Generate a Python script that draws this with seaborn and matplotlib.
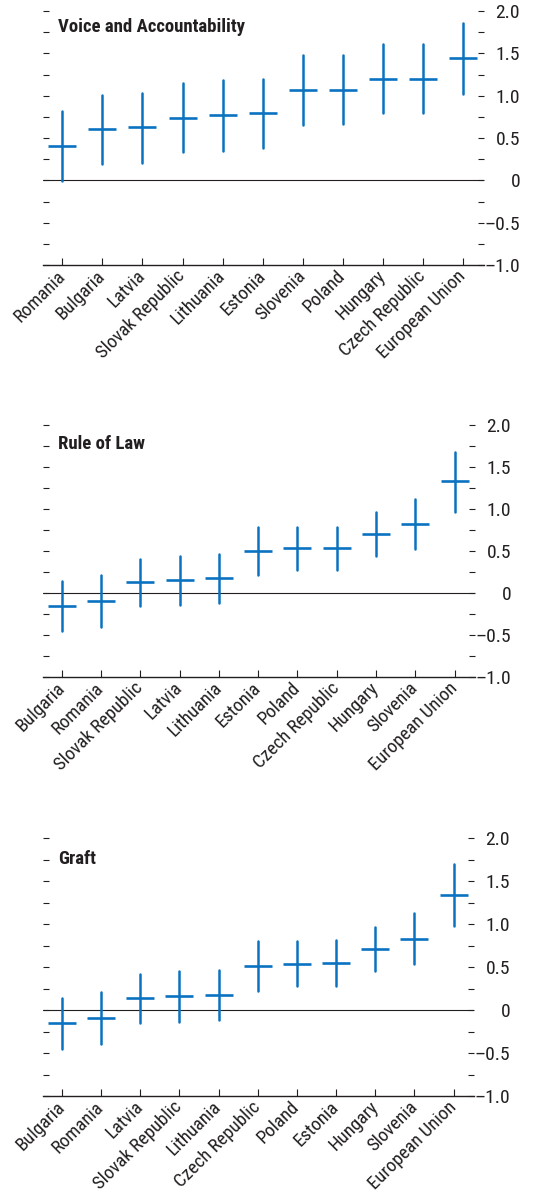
import numpy as np
import pandas as pd
import seaborn as sns
import matplotlib.pyplot as plt
from matplotlib import font_manager as fm

# Data (centre value and interval ends per country)
va_countries = ["Romania", "Bulgaria", "Latvia", "Slovak Republic", "Lithuania", "Estonia",
                "Slovenia", "Poland", "Hungary", "Czech Republic", "European Union"]
va_mid = [0.41, 0.61, 0.63, 0.74, 0.77, 0.79, 1.07, 1.07, 1.20, 1.20, 1.44]
va_low = [-0.01, 0.19, 0.21, 0.33, 0.35, 0.38, 0.65, 0.66, 0.79, 0.79, 1.02]
va_high = [0.82, 1.01, 1.03, 1.15, 1.18, 1.20, 1.48, 1.48, 1.61, 1.61, 1.86]

rl_countries = ["Bulgaria", "Romania", "Slovak Republic", "Latvia", "Lithuania", "Estonia",
                "Poland", "Czech Republic", "Hungary", "Slovenia", "European Union"]
rl_mid = [-0.15, -0.09, 0.13, 0.15, 0.18, 0.50, 0.53, 0.54, 0.70, 0.82, 1.33]
rl_low = [-0.45, -0.40, -0.15, -0.14, -0.12, 0.21, 0.27, 0.27, 0.44, 0.52, 0.97]
rl_high = [0.14, 0.21, 0.40, 0.44, 0.47, 0.79, 0.79, 0.79, 0.96, 1.12, 1.68]

gr_countries = ["Bulgaria", "Romania", "Latvia", "Slovak Republic", "Lithuania", "Czech Republic",
                "Poland", "Estonia", "Hungary", "Slovenia", "European Union"]
gr_mid = [-0.15, -0.09, 0.14, 0.16, 0.18, 0.51, 0.54, 0.55, 0.71, 0.83, 1.34]
gr_low = [-0.45, -0.39, -0.15, -0.14, -0.12, 0.22, 0.28, 0.28, 0.45, 0.53, 0.98]
gr_high = [0.14, 0.21, 0.42, 0.45, 0.47, 0.80, 0.80, 0.81, 0.97, 1.13, 1.70]

BLUE = "#0a72c0"
DARK = "#231f20"

# axes rectangles in figure pixels: left, right, top, bottom
W, H = 533, 1196
PANELS = [
    ("Voice and Accountability", va_countries, va_mid, va_low, va_high, (43, 484, 11, 265), 21),
    ("Rule of Law", rl_countries, rl_mid, rl_low, rl_high, (43, 475, 425, 677), 24),
    ("Graft", gr_countries, gr_mid, gr_low, gr_high, (43, 474, 838, 1096), 26),
]


def pick_font():
    # the original uses a condensed sans; take a narrow face if one is installed
    entries = fm.fontManager.ttflist
    names = {f.name for f in entries}
    for n in ["Liberation Sans Narrow", "Roboto Condensed", "Noto Sans Condensed",
              "Open Sans Condensed", "Arial Narrow"]:
        if n in names:
            return n, "normal", True
    for fam in ["Roboto", "Noto Sans", "Open Sans", "DejaVu Sans"]:
        if any(f.name == fam and f.stretch in ("condensed", "semi-condensed") for f in entries):
            return fam, "condensed", True
    return "Liberation Sans", "normal", False


def fmt_tick(v):
    if abs(v) < 1e-9:
        return "0"
    if abs(v * 2 - round(v * 2)) > 1e-9:
        return ""
    return f"{v:.1f}".replace("-", "\u2013")


def draw_panel(fig, title, countries, mid, low, high, rect, title_off, fs, tfs):
    l, r, t, b = rect
    ax = fig.add_axes([l / W, 1 - b / H, (r - l) / W, (b - t) / H])

    # long form: median gives the centre, min/max gives the interval
    df = pd.DataFrame({
        "country": countries * 3,
        "value": list(low) + list(mid) + list(high),
    })
    sns.pointplot(data=df, x="country", y="value", order=countries,
                  estimator="median", errorbar=("pi", 100),
                  color=BLUE, markers="_", linestyles="none",
                  markersize=20, markeredgewidth=1.9,
                  err_kws={"linewidth": 1.8}, ax=ax)

    ax.axhline(0, color=DARK, lw=0.8, zorder=1)
    ax.set_xlim(-0.48, 10.52)
    ax.set_ylim(-1, 2)
    ax.set_xlabel("")
    ax.set_ylabel("")

    ticks = np.arange(-1, 2.001, 0.25)
    ax.set_yticks(ticks)
    ax.set_yticklabels([fmt_tick(v) for v in ticks])
    ax.tick_params(axis="y", left=True, right=True, labelleft=False, labelright=True,
                   direction="in", length=4, width=0.8, color=DARK, pad=26,
                   labelsize=fs, labelcolor=DARK)
    for lab in ax.get_yticklabels():
        lab.set_horizontalalignment("right")

    ax.tick_params(axis="x", bottom=True, direction="in", length=5, width=0.8,
                   color=DARK, labelsize=fs - 0.5, labelcolor=DARK, pad=6)
    plt.setp(ax.get_xticklabels(), rotation=45, ha="right", va="center",
             rotation_mode="anchor")

    for side in ["left", "right", "top"]:
        ax.spines[side].set_visible(False)
    ax.spines["bottom"].set_color(DARK)
    ax.spines["bottom"].set_linewidth(1.0)

    ax.text((58 - l) / (r - l), 1 - title_off / (b - t), title, transform=ax.transAxes,
            fontsize=tfs, fontweight="bold", color=DARK, va="baseline", ha="left")
    return ax


if __name__ == "__main__":
    sns.set_theme(style="white")
    family, stretch, narrow = pick_font()
    plt.rcParams["font.family"] = [family, "Liberation Sans", "DejaVu Sans"]
    plt.rcParams["font.stretch"] = stretch
    fs, tfs = (14, 13.5) if narrow else (11, 11.5)
    fig = plt.figure(figsize=(W / 100, H / 100), dpi=100)
    for p in PANELS:
        draw_panel(fig, *p, fs, tfs)
    fig.savefig("out.png", dpi=100)
